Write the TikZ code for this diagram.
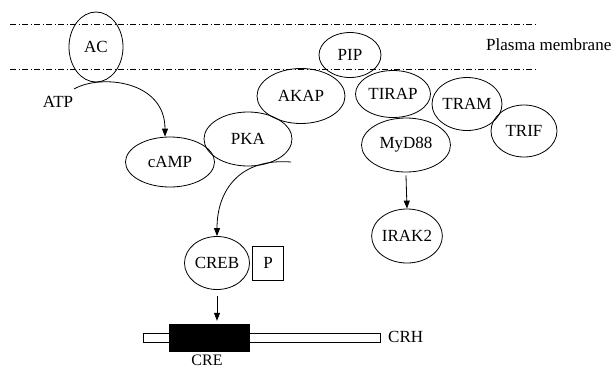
\documentclass[tikz,border=0pt]{standalone}
\usepackage{fontspec}
\setmainfont{Liberation Serif}
\usetikzlibrary{shapes.geometric,arrows.meta}
\begin{document}
\begin{tikzpicture}[x=1pt,y=-1pt,
  every node/.style={font=\fontsize{17}{19}\selectfont},
  ell/.style={draw,ellipse,inner sep=0pt,line width=0.8pt},
  memb/.style={line width=0.6pt,dash pattern=on 6pt off 2.5pt on 1pt off 2.5pt},
  arr/.style={line width=0.8pt,-{Triangle[length=8pt,width=6pt]}},
  txt/.style={inner sep=0pt}]
\useasboundingbox (0,0) rectangle (614,368);
% membrane
\coordinate (m1l) at (10,24); \coordinate (m1r) at (535,24);
\coordinate (m2l) at (10,69); \coordinate (m2r) at (535,69);
\draw[memb] (m1l) -- (m1r);
\draw[memb] (m2l) -- (m2r);
\node[txt,anchor=west] (pm) at (486,45) {Plasma membrane};
% nodes
\node[ell,minimum width=54pt,minimum height=70pt] (ac) at (96,47) {AC};
\node[txt] (atp) at (58,102) {ATP};
\node[ell,minimum width=89pt,minimum height=50pt] (camp) at (170,162) {cAMP};
\node[ell,minimum width=88pt,minimum height=54pt] (pka) at (248,139) {PKA};
\node[ell,minimum width=88pt,minimum height=55pt] (akap) at (301,96) {AKAP};
\node[ell,minimum width=62pt,minimum height=45pt] (pip) at (350,55) {PIP};
\node[ell,minimum width=75pt,minimum height=47pt] (tirap) at (393,94) {TIRAP};
\node[ell,minimum width=70pt,minimum height=53pt] (tram) at (467,104) {TRAM};
\node[ell,minimum width=66pt,minimum height=52pt] (trif) at (524,131) {TRIF};
\node[ell,minimum width=89pt,minimum height=54pt] (myd) at (406,145) {MyD88};
\node[ell,minimum width=68pt,minimum height=54pt] (irak) at (407,236) {IRAK2};
\node[ell,minimum width=65pt,minimum height=53pt] (creb) at (217,263) {CREB};
\node[draw,line width=0.8pt,minimum width=31pt,minimum height=34pt,inner sep=0pt] (p) at (268,263) {P};
% DNA
\node[draw,line width=0.8pt,minimum width=237pt,minimum height=9pt,inner sep=0pt] (crh) at (261.5,337.5) {};
\node[draw,fill=black,minimum width=80pt,minimum height=27pt,inner sep=0pt] (cre) at (209,337.5) {};
\node[txt,anchor=base,font=\fontsize{16}{18}\selectfont] (crelab) at (207,365.5) {CRE};
\node[txt,anchor=west] (crhlab) at (388,337) {CRH};
% connectors
\coordinate (atpc) at (74,89);
\draw[arr] (atpc) .. controls (100,74) and (165,80) .. (camp.north -| 165,0);
\coordinate (pkac) at (291,162);
\draw[arr] (pkac) .. controls (240,158) and (217,190) .. (creb.north);
\draw[arr] ([yshift=-3pt]myd.south) -- (irak.north);
\draw[arr] ([yshift=-6pt]creb.south) -- ([yshift=3pt]creb.south |- cre.north);
\end{tikzpicture}
\end{document}
